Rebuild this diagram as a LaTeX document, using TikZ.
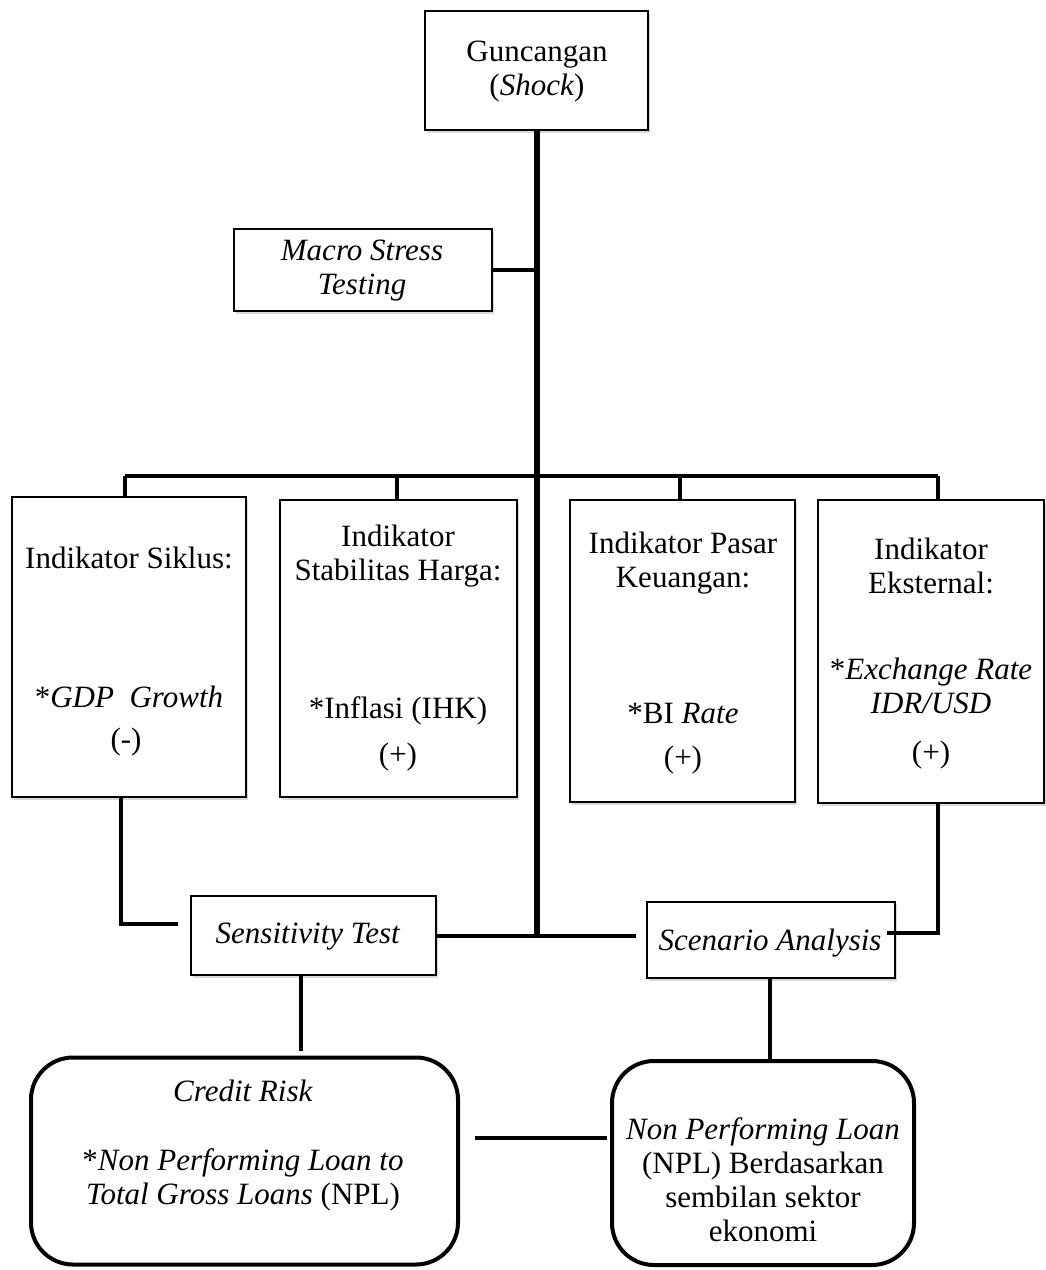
\documentclass[tikz,border=0pt]{standalone}
\usepackage{fontspec}
\setmainfont{Liberation Serif}
\usetikzlibrary{shadows}
\begin{document}
\begin{tikzpicture}[x=1pt,y=-1pt,
  box/.style={draw, line width=1.3pt, rectangle, fill=white, inner sep=0pt,
    drop shadow={opacity=0.3, shadow xshift=1.5pt, shadow yshift=-2.5pt}},
  rbox/.style={draw, line width=4pt, rounded corners=42pt, fill=white, inner sep=0pt},
  txt/.style={align=center, font=\fontsize{31}{34}\selectfont, inner sep=0pt},
  conn/.style={line width=4.5pt},
  mainline/.style={line width=6pt}]
\useasboundingbox (0,0) rectangle (1046,1270);

% boxes
\node[box, minimum width=223pt, minimum height=119pt] (top) at (536.5,70.5) {};
\node[box, minimum width=258pt, minimum height=82pt] (macro) at (363,270) {};
\node[box, minimum width=234pt, minimum height=300pt] (b1) at (129,647) {};
\node[box, minimum width=237pt, minimum height=297pt] (b2) at (398.5,648.5) {};
\node[box, minimum width=225pt, minimum height=302pt] (b3) at (682.5,651) {};
\node[box, minimum width=226pt, minimum height=303pt] (b4) at (931,651.5) {};
\node[box, minimum width=245pt, minimum height=79pt] (sens) at (313.5,935.5) {};
\node[box, minimum width=248pt, minimum height=76pt] (scen) at (771,940) {};
\node[rbox, minimum width=427pt, minimum height=207pt] (credit) at (244.5,1161) {};
\node[rbox, minimum width=302pt, minimum height=204pt] (npl) at (763,1163) {};

% coordinates for connectors
\coordinate (j) at (537,936);
\coordinate (d1) at (125,476);
\coordinate (d2) at (397,476);
\coordinate (d3) at (680,476);
\coordinate (d4) at (938,476);
\coordinate (s1) at (121,924);
\coordinate (s1e) at (178,924);
\coordinate (s4) at (938,933);
\coordinate (s4e) at (887,933);
\coordinate (jr) at (636,936);
\coordinate (cs) at (301,0);
\coordinate (ns) at (770,0);
\coordinate (cl) at (475,1138);
\coordinate (cr) at (607,1138);

% connectors
\draw[mainline] (top.south -| j) -- (j);
\draw[conn] (macro.east) -- (macro.east -| j);
\draw[conn] (d1) -- (d4);
\draw[conn] (d1) -- (d1 |- b1.north);
\draw[conn] (d2) -- (d2 |- b2.north);
\draw[conn] (d3) -- (d3 |- b3.north);
\draw[conn] (d4) -- (d4 |- b4.north);
\draw[conn] (s1 |- b1.south) -- (s1) -- (s1e);
\draw[conn] (sens.east |- j) -- (j) -- (jr);
\draw[conn] (s4 |- b4.south) -- (s4) -- (s4e);
\draw[conn] (cs |- sens.south) -- ([yshift=5pt]cs |- credit.north);
\draw[conn] (ns |- scen.south) -- (ns |- npl.north);
\draw[conn] (cl) -- (cr);

% texts
\node[txt] (ttop) at (537,72) {Guncangan\\(\textit{Shock})};
\node[txt] (tmacro) at (362,271) {\textit{Macro Stress}\\\textit{Testing}};
\node[txt] (t1a) at (129,558) {Indikator Siklus:};
\node[txt] (t1b) at (129,697) {*\textit{GDP\ \ Growth}};
\node[txt] (t1c) at (126,742) {(-)};
\node[txt] (t2a) at (398,556) {Indikator\\Stabilitas Harga:};
\node[txt] (t2b) at (398,711) {*Inflasi (IHK)};
\node[txt] (t2c) at (398,757) {(+)};
\node[txt] (t3a) at (683,563) {Indikator Pasar\\Keuangan:};
\node[txt] (t3b) at (683,713) {*BI \textit{Rate}};
\node[txt] (t3c) at (683,760) {(+)};
\node[txt] (t4a) at (931,566) {Indikator\\Eksternal:};
\node[txt] (t4b) at (931,686) {*\textit{Exchange Rate}\\\textit{IDR/USD}};
\node[txt] (t4c) at (931,755) {(+)};
\node[txt] (tsens) at (308,937) {\textit{Sensitivity Test}};
\node[txt] (tscen) at (770,943) {\textit{Scenario Analysis}};
\node[txt] (tc1) at (243,1091) {\textit{Credit Risk}};
\node[txt] (tc2) at (243,1180) {*\textit{Non Performing Loan to}\\\textit{Total Gross Loans} (NPL)};
\node[txt] (tn) at (763,1180) {\textit{Non Performing Loan}\\(NPL) Berdasarkan\\sembilan sektor\\ekonomi};
\end{tikzpicture}
\end{document}
